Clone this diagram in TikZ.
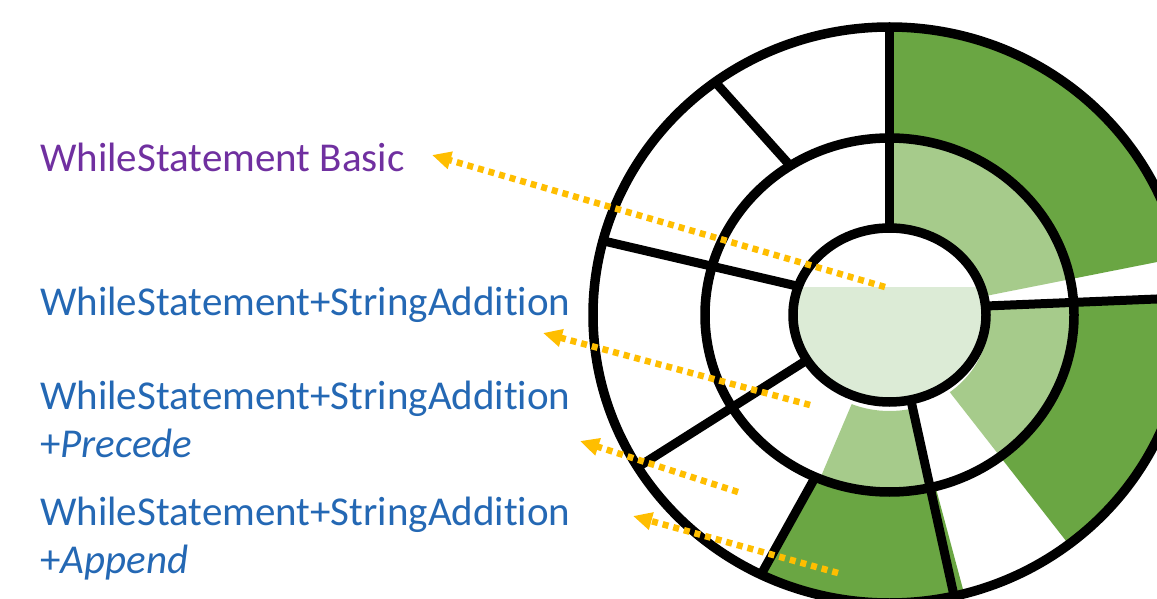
\documentclass[tikz,border=0pt]{standalone}
\usepackage{fontspec}
\setmainfont[Ligatures=NoCommon]{Carlito}
\usetikzlibrary{arrows.meta, positioning}

\definecolor{darkgreen}{HTML}{6AA643}
\definecolor{midgreen}{HTML}{A6CB8B}
\definecolor{palegreen}{HTML}{DCEBD6}
\definecolor{labelpurple}{HTML}{7030A0}
\definecolor{labelblue}{HTML}{2468B4}
\definecolor{arrowgold}{HTML}{FFBE00}

\begin{document}
\begin{tikzpicture}[
    x=1pt, y=1pt,
    % Define styles
    ring/.style={draw=black, line width=9.5pt},
    divider/.style={draw=black, line width=9pt},
    lbl/.style={font=\fontsize{41}{48}\selectfont, text=labelblue, inner sep=0pt},
    hint/.style={draw=arrowgold, line width=6.5pt, dash pattern=on 6pt off 5pt,
                 -{Triangle[length=19pt, width=17pt]}}
]
    % Canvas
    \fill[white] (0,0) rectangle (1157,598);
    \useasboundingbox (0,0) rectangle (1157,598);
    \clip (0,0) rectangle (1157,598);

    \coordinate (c) at (889.5,283);

    % Outer ring fills
    \begin{scope}[even odd rule]
        \clip (c) ellipse [x radius=296.5, y radius=288] (c) ellipse [x radius=184.5, y radius=177];
        \foreach \from/\to in {11.2/90, -52/4, -116/-75}
            \fill[darkgreen] (c) -- +(\from:450) arc [start angle=\from, end angle=\to, radius=450] -- cycle;
    \end{scope}

    % Middle ring fills
    \begin{scope}[even odd rule]
        \clip (c) ellipse [x radius=184.5, y radius=177] (889.5,278) ellipse [x radius=99, y radius=91];
        \foreach \from/\to in {11.2/90, -52/4, -113/-76.5}
            \fill[midgreen] (c) -- +(\from:300) arc [start angle=\from, end angle=\to, radius=300] -- cycle;
    \end{scope}

    % Centre disc
    \begin{scope}
        \clip (c) ellipse [x radius=96.5, y radius=87];
        \fill[palegreen] (780,311) rectangle (1000,180);
    \end{scope}

    % Divider end points
    \coordinate (top in) at (889.5,370);
    \coordinate (top out) at (889.5,571);
    \coordinate (west in) at (798.5,311.6);
    \coordinate (west out) at (603.3,357.1);
    \coordinate (nw mid) at (790.5,432);
    \coordinate (nw out) at (715.3,515.8);
    \coordinate (east in) at (986,292);
    \coordinate (east out) at (1186,300.2);
    \coordinate (sw in) at (807,238);
    \coordinate (sw out) at (638,131);
    \coordinate (ssw mid) at (815.3,121);
    \coordinate (ssw out) at (761,23.4);
    \coordinate (south in) at (910.8,198.3);
    \coordinate (south out) at (954.1,1.9);

    % Dividers
    \draw[divider] (top in) -- (top out);
    \draw[divider] (west in) -- (west out);
    \draw[divider] (nw mid) -- (nw out);
    \draw[divider] (east in) -- (east out);
    \draw[divider] (sw in) -- (sw out);
    \draw[divider] (ssw mid) -- (ssw out);
    \draw[divider] (south in) -- (south out);

    % Rings
    \draw[ring] (c) ellipse [x radius=96.5, y radius=87];
    \draw[ring] (c) ellipse [x radius=184.5, y radius=177];
    \draw[ring] (c) ellipse [x radius=296.5, y radius=288];

    % Labels
    \node[lbl, text=labelpurple, anchor=base west] (basic) at (40,426) {WhileStatement Basic};
    \node[lbl, anchor=base west] (concat) at (40,283) {WhileStatement+StringAddition};
    \node[lbl, anchor=base west] (prec) at (40,189) {WhileStatement+StringAddition};
    \node[lbl, below=48pt of prec.base west, anchor=base west] (prec tail) {+\textit{Precede}};
    \node[lbl, anchor=base west] (app) at (40,73) {WhileStatement+StringAddition};
    \node[lbl, below=48pt of app.base west, anchor=base west] (app tail) {+\textit{Append}};

    % Pointers
    \coordinate (src basic) at (885,311);
    \coordinate (tip basic) at (432,443);
    \coordinate (src concat) at (810,193);
    \coordinate (tip concat) at (543,265);
    \coordinate (src prec) at (738,106);
    \coordinate (tip prec) at (580,157);
    \coordinate (src app) at (838,25);
    \coordinate (tip app) at (633,82);

    \draw[hint] (src basic) -- (tip basic);
    \draw[hint] (src concat) -- (tip concat);
    \draw[hint] (src prec) -- (tip prec);
    \draw[hint] (src app) -- (tip app);
\end{tikzpicture}
\end{document}
